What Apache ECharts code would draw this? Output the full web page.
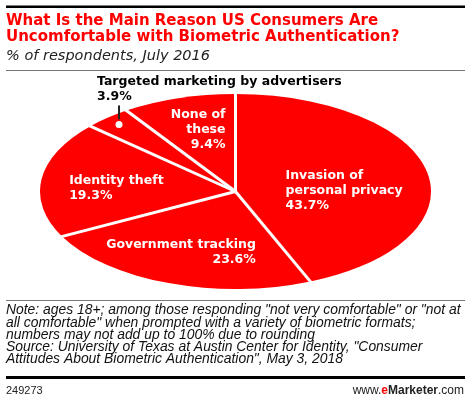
<!DOCTYPE html>
<html>
<head>
<meta charset="utf-8">
<script src="https://cdn.jsdelivr.net/npm/echarts@6/dist/echarts.min.js"></script>
<style>
  html, body { margin: 0; padding: 0; background: #fff; }
  #chart { width: 470px; height: 399px; }
</style>
</head>
<body>
<div id="chart"></div>
<script>
// survey answers, clockwise from 12 o'clock
const categories = [
  'Invasion of\npersonal privacy',
  'Government tracking',
  'Identity theft',
  'Targeted marketing by advertisers',
  'None of\nthese'
];
const shares = [43.7, 23.6, 19.3, 3.9, 9.4];

const titleText = 'What Is the Main Reason US Consumers Are\nUncomfortable with Biometric Authentication?';
const subtitleText = '% of respondents, July 2016';
const noteLines = [
  'Note: ages 18+; among those responding "not very comfortable" or "not at',
  'all comfortable" when prompted with a variety of biometric formats;',
  'numbers may not add up to 100% due to rounding',
  'Source: University of Texas at Austin Center for Identity, "Consumer',
  'Attitudes About Biometric Authentication", May 3, 2018'
];
const chartId = '249273';

// pie geometry (flattened ellipse)
const CX = 235.5, CY = 191.5, RX = 195.5, RY = 97.5;
const RED = '#ff0000';

// label placement per slice, as fractions of the radii from the centre
const labelLayout = [
  { lx: 0.256, ly: -0.01, align: 'left' },
  { lx: 0.104, ly: 0.62, align: 'right' },
  { lx: -0.851, ly: -0.03, align: 'left' },
  { outside: true },
  { lx: -0.051, ly: -0.63, align: 'right' }
];

const total = shares.reduce((a, b) => a + b, 0);
const starts = [];
shares.reduce((acc, v, i) => { starts[i] = acc; return acc + v; }, 0);

function angleOf(v) {
  return -Math.PI / 2 + (v / total) * Math.PI * 2;
}

function onEllipse(a, f) {
  return [CX + RX * f * Math.cos(a), CY + RY * f * Math.sin(a)];
}

function renderSlice(params, api) {
  const i = params.dataIndex;
  const v = api.value(0);
  const a0 = angleOf(starts[i]);
  const a1 = angleOf(starts[i] + v);
  const edge = onEllipse(a0, 1.02);
  const label = categories[i] + '\n' + v.toFixed(1) + '%';
  const lay = labelLayout[i];
  const children = [{
    type: 'sector',
    shape: { cx: CX, cy: CY, r: RX, r0: 0, startAngle: a0, endAngle: a1, clockwise: true },
    scaleY: RY / RX,
    originX: CX,
    originY: CY,
    style: { fill: RED }
  }, {
    type: 'line',
    shape: { x1: CX, y1: CY, x2: edge[0], y2: edge[1] },
    style: { stroke: '#fff', lineWidth: 3 },
    z2: 10
  }];
  if (lay.outside) {
    const mid = (a0 + a1) / 2;
    const dot = onEllipse(mid, 0.91);
    children.push({
      type: 'circle',
      shape: { cx: dot[0], cy: dot[1], r: 3.5 },
      style: { fill: '#fff' },
      z2: 20
    }, {
      type: 'line',
      shape: { x1: dot[0], y1: dot[1] - 5, x2: dot[0], y2: dot[1] - 19 },
      style: { stroke: '#222', lineWidth: 2 },
      z2: 20
    }, {
      type: 'text',
      x: dot[0] - 22,
      y: dot[1] - 20,
      style: {
        text: label,
        fill: '#000',
        fontFamily: 'DejaVu Sans',
        fontWeight: 'bold',
        fontSize: 12.5,
        lineHeight: 15,
        align: 'left',
        verticalAlign: 'bottom'
      },
      z2: 20
    });
  } else {
    children.push({
      type: 'text',
      x: CX + RX * lay.lx,
      y: CY + RY * lay.ly,
      style: {
        text: label,
        fill: '#fff',
        fontFamily: 'DejaVu Sans',
        fontWeight: 'bold',
        fontSize: 12.5,
        lineHeight: 15,
        align: lay.align,
        verticalAlign: 'middle'
      },
      z2: 20
    });
  }
  return { type: 'group', children: children };
}

const chart = echarts.init(document.getElementById('chart'), null, { renderer: 'canvas' });

const option = {
  animation: false,
  backgroundColor: '#fff',
  title: [{
    text: titleText,
    left: 6,
    top: 13,
    padding: 0,
    textStyle: {
      color: RED,
      fontFamily: 'DejaVu Sans',
      fontWeight: 'bold',
      fontSize: 15,
      lineHeight: 16
    }
  }, {
    text: subtitleText,
    left: 6,
    top: 48,
    padding: 0,
    textStyle: {
      color: '#222',
      fontFamily: 'DejaVu Sans',
      fontStyle: 'italic',
      fontWeight: 'normal',
      fontSize: 14.5,
      lineHeight: 16
    }
  }, {
    text: noteLines.join('\n'),
    left: 6,
    top: 304.5,
    padding: 0,
    textStyle: {
      color: '#111',
      fontFamily: 'Liberation Sans',
      fontStyle: 'italic',
      fontWeight: 'normal',
      fontSize: 13.9,
      lineHeight: 12.2
    }
  }],
  graphic: [
    { type: 'rect', shape: { x: 6, y: 5.5, width: 459, height: 2.5 }, style: { fill: '#000' } },
    { type: 'rect', shape: { x: 6, y: 70, width: 459, height: 1 }, style: { fill: '#777' } },
    { type: 'rect', shape: { x: 6, y: 300, width: 459, height: 1 }, style: { fill: '#777' } },
    { type: 'rect', shape: { x: 6, y: 376, width: 459, height: 3 }, style: { fill: '#000' } },
    {
      type: 'text', x: 6, y: 391,
      style: { text: chartId, fill: '#222', fontFamily: 'Liberation Sans', fontSize: 11, verticalAlign: 'middle' }
    },
    {
      type: 'text', x: 464, y: 391,
      style: {
        text: '{a|www.}{b|e}{c|Marketer}{a|.com}',
        align: 'right',
        verticalAlign: 'middle',
        rich: {
          a: { fill: '#222', fontFamily: 'Liberation Sans', fontSize: 12 },
          b: { fill: RED, fontFamily: 'Liberation Sans', fontWeight: 'bold', fontSize: 12 },
          c: { fill: '#222', fontFamily: 'Liberation Sans', fontWeight: 'bold', fontSize: 12 }
        }
      }
    }
  ],
  series: [{
    type: 'custom',
    coordinateSystem: 'none',
    renderItem: renderSlice,
    data: shares.map(v => [v])
  }]
};

chart.setOption(option);
</script>
</body>
</html>
